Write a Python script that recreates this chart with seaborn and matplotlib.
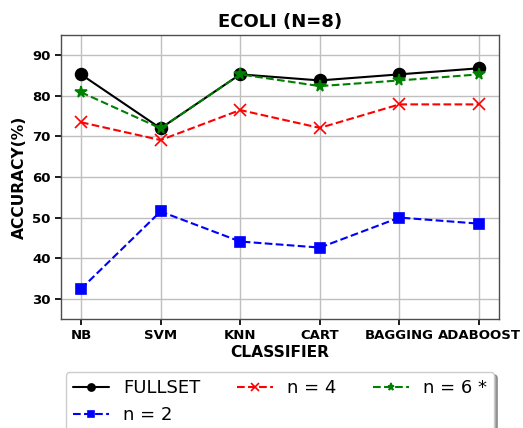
import pandas as pd
import matplotlib
matplotlib.use("Agg")
import matplotlib.pyplot as plt
import seaborn as sns

# dane
CLASSIFIERS = ["NB", "SVM", "KNN", "CART", "BAGGING", "ADABOOST"]
FULLSET = [85.3, 72.0, 85.3, 83.8, 85.3, 86.8]
N2 = [32.4, 51.5, 44.1, 42.6, 50.0, 48.5]
N4 = [73.5, 69.1, 76.5, 72.1, 77.9, 77.9]
N6 = [80.9, 72.0, 85.3, 82.4, 83.8, 85.3]

SERIES = [
    ("FULLSET", FULLSET, "black", "-", "o", 8.5),
    ("n = 2", N2, "blue", "--", "s", 7.5),
    ("n = 4", N4, "red", "--", "x", 8.5),
    ("n = 6 *", N6, "green", "--", "*", 8.5),
]


def main():
    sns.set_theme(style="whitegrid", rc={
        "axes.edgecolor": "0.3",
        "axes.linewidth": 1.0,
        "grid.color": "0.75",
        "grid.linewidth": 1.0,
        "xtick.bottom": True,
        "ytick.left": True,
        "xtick.major.size": 4,
        "ytick.major.size": 4,
        "xtick.color": "black",
        "ytick.color": "black",
        "text.color": "black",
        "axes.labelcolor": "black",
    })
    plt.rcParams["font.family"] = ["DejaVu Sans"]

    fig, ax = plt.subplots(figsize=(5.23, 4.28), dpi=100)
    fig.subplots_adjust(left=61 / 523, right=499 / 523,
                        top=1 - 35 / 428, bottom=1 - 319 / 428)

    for name, vals, col, ls, mk, ms in SERIES:
        df = pd.DataFrame({"clf": CLASSIFIERS, "acc": vals})
        sns.lineplot(data=df, x="clf", y="acc", ax=ax, sort=False,
                     color=col, linestyle=ls, marker=mk, markersize=ms,
                     markeredgecolor=col, markeredgewidth=1.2,
                     linewidth=1.5, label=name)

    ax.set_ylim(25, 95)
    ax.set_yticks([30, 40, 50, 60, 70, 80, 90])
    ax.margins(x=0.05)
    ax.set_title("ECOLI (N=8)", fontsize=13, fontweight="bold", color="black")
    ax.set_xlabel("CLASSIFIER", fontsize=11.2, fontweight="bold", labelpad=2)
    ax.set_ylabel("ACCURACY(%)", fontsize=11.2, fontweight="bold")
    for lab in ax.get_xticklabels() + ax.get_yticklabels():
        lab.set_fontweight("bold")
        lab.set_fontsize(9.5)

    leg = ax.legend(loc="upper center", bbox_to_anchor=(0.5, -0.155), ncol=3,
                    fontsize=13, markerscale=0.6, shadow=True, fancybox=True,
                    framealpha=1.0, columnspacing=2.0)
    for t in leg.get_texts():
        t.set_color("black")
    fig.savefig("out.png", dpi=100)


if __name__ == "__main__":
    main()
